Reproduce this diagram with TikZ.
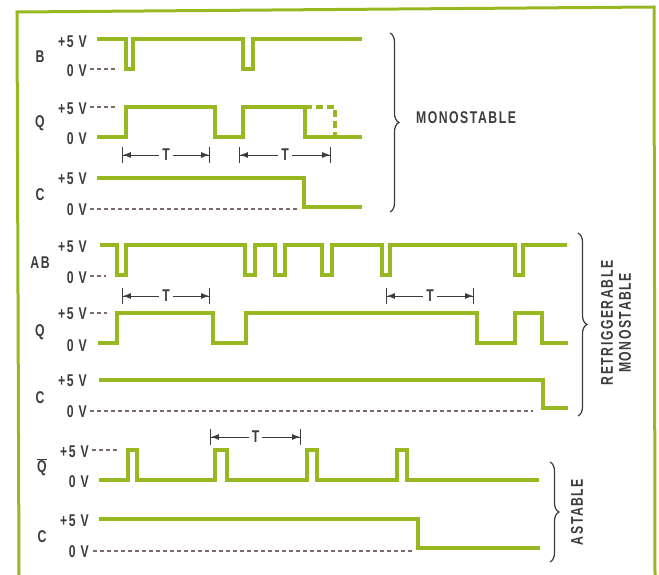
\documentclass[tikz,border=0pt]{standalone}
\usepackage{fontspec}
\setmainfont{Liberation Sans}[FakeStretch=0.72, LetterSpace=9]
\usepackage{tikz}
\usetikzlibrary{arrows.meta, decorations.pathreplacing}

\definecolor{sigcol}{RGB}{152,184,34}
\definecolor{txtcol}{RGB}{60,60,60}
\definecolor{refcol}{RGB}{125,105,105}

\begin{document}
\begin{tikzpicture}[x=1pt, y=-1pt,
    sig/.style={sigcol, line width=3.3pt},
    ref/.style={refcol, line width=1.4pt, dash pattern=on 4pt off 3pt},
    lvl/.style={anchor=east, txtcol, font=\bfseries\fontsize{17}{17}\selectfont, inner sep=1pt},
    row/.style={txtcol, font=\bfseries\fontsize{17}{17}\selectfont},
    per/.style={txtcol, line width=0.9pt, {Bar[width=16pt]Latex[length=8pt,width=6pt]}-{Latex[length=8pt,width=6pt]Bar[width=16pt]}},
    tlbl/.style={fill=white, text=txtcol, font=\bfseries\fontsize{17}{17}\selectfont, inner xsep=3pt, inner ysep=1pt},
    grp/.style={txtcol, line width=1.2pt, decorate, decoration={brace, amplitude=9pt}},
    lbl/.style={txtcol, font=\bfseries\fontsize{17}{18}\selectfont}]
    \useasboundingbox (0,0) rectangle (659,575);

    % Frame
    \draw[sigcol, line width=3pt] (19,575) -- (17,12) -- (654,7) -- (655,575);

    % Monostable: B
    \node[row] (b) at (40,57) {B};
    \node[lvl] (b5) at (88,42) {+5 V};
    \node[lvl] (b0) at (88,71) {0 V};
    \draw[ref] (90,69) -- (118,69);
    \draw[sig] (97,39) -| (126,69) -| (133,39) -| (243,69) -| (253,39) -- (362,39);

    % Monostable: Q
    \node[row] (q) at (40,123) {Q};
    \node[lvl] (q5) at (88,109) {+5 V};
    \node[lvl] (q0) at (88,139) {0 V};
    \draw[ref] (90,107) -- (116,107);
    \draw[sig] (97,137) -| (126,107) -| (215,137) -| (243,107) -| (305,137) -- (362,137);
    \draw[sig, dash pattern=on 7pt off 4pt] (305,107) -- (335,107) -- (335,137);
    \draw[per] (122,155) -- node[tlbl] {T} (210,155);
    \draw[per] (239,155) -- node[tlbl] {T} (331,155);

    % Monostable: C
    \node[row] (c) at (40,195) {C};
    \node[lvl] (c5) at (88,179) {+5 V};
    \node[lvl] (c0) at (88,210) {0 V};
    \draw[ref] (90,209) -- (297,209);
    \draw[sig] (97,178) -| (304,207) -- (362,207);

    \draw[grp] (390,33) -- (390,212);
    \node[lbl] (mono) at (466,118) {MONOSTABLE};

    % Retriggerable: AB
    \node[row] (ab) at (40,263) {AB};
    \node[lvl] (ab5) at (88,247) {+5 V};
    \node[lvl] (ab0) at (88,278) {0 V};
    \draw[ref] (90,276) -- (106,276);
    \draw[sig] (100,245) -| (117,275) -| (126,245) -| (245,275) -| (255,245)
        -| (275,275) -| (285,245) -| (322,275) -| (332,245) -| (382,275) -| (390,245)
        -| (515,275) -| (523,245) -- (567,245);
    \draw[per] (122,296) -- node[tlbl] {T} (210,296);
    \draw[per] (386,296) -- node[tlbl] {T} (474,296);

    % Retriggerable: Q
    \node[row] (rq) at (40,332) {Q};
    \node[lvl] (rq5) at (88,314) {+5 V};
    \node[lvl] (rq0) at (88,346) {0 V};
    \draw[ref] (90,313) -- (107,313);
    \draw[sig] (98,343) -| (117,313) -| (213,343) -| (246,313) -| (477,343) -| (515,313)
        -| (542,343) -- (568,343);

    % Retriggerable: C
    \node[row] (rc) at (40,398) {C};
    \node[lvl] (rc5) at (88,381) {+5 V};
    \node[lvl] (rc0) at (88,412) {0 V};
    \draw[ref] (90,411) -- (533,411);
    \draw[sig] (99,380) -| (543,408) -- (568,408);

    \draw[grp] (578,233) -- (578,416);
    \node[lbl, rotate=90, align=center] (retrig) at (616,323) {RETRIGGERABLE\\MONOSTABLE};

    % Astable: Q bar
    \node[row] (qb) at (42,467) {$\overline{\mbox{Q}}$};
    \node[lvl] (qb5) at (90,452) {+5 V};
    \node[lvl] (qb0) at (90,482) {0 V};
    \draw[ref] (92,450) -- (117,450);
    \draw[sig] (99,480) -| (128,450) -| (137,480) -| (215,450) -| (227,480) -| (307,450)
        -| (317,480) -| (397,450) -| (407,480) -- (539,480);
    \draw[per] (210,437) -- node[tlbl] {T} (301,437);

    % Astable: C
    \node[row] (ac) at (42,537) {C};
    \node[lvl] (ac5) at (90,521) {+5 V};
    \node[lvl] (ac0) at (90,552) {0 V};
    \draw[ref] (93,551) -- (412,551);
    \draw[sig] (99,519) -| (418,548) -- (540,548);

    \draw[grp] (550,462) -- (550,562);
    \node[lbl, rotate=90] (ast) at (577,512) {ASTABLE};
\end{tikzpicture}
\end{document}
